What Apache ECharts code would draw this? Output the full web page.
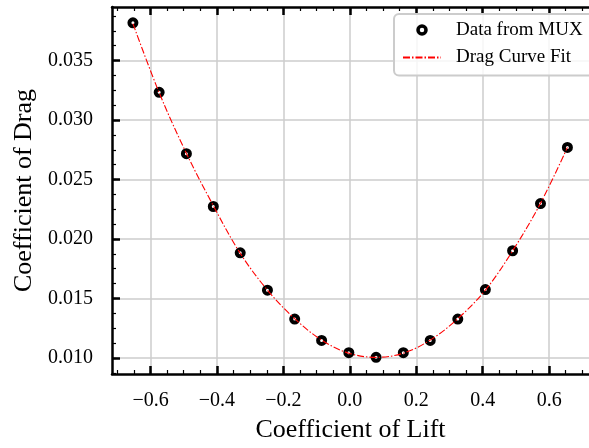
<!DOCTYPE html>
<html>
<head>
<meta charset="utf-8">
<script src="https://cdn.jsdelivr.net/npm/echarts@6/dist/echarts.min.js"></script>
<style>
html,body{margin:0;padding:0;background:#fff;}
#chart{width:589px;height:448px;}
</style>
</head>
<body>
<div id="chart"></div>
<script>
// ---- data ----
const liftValues = [-0.653, -0.574, -0.492, -0.411, -0.330, -0.248, -0.166, -0.085, -0.003, 0.079, 0.161, 0.242, 0.325, 0.408, 0.490, 0.574, 0.655];
const dragValues = [0.03817, 0.03233, 0.02717, 0.02273, 0.01884, 0.01570, 0.01327, 0.01147, 0.01044, 0.01005, 0.01044, 0.01147, 0.01327, 0.01575, 0.01901, 0.02298, 0.02770];
const fitValues  = [0.0381, 0.0323, 0.0272, 0.0228, 0.0188, 0.0157, 0.0133, 0.0115, 0.0104, 0.01005, 0.0104, 0.0115, 0.0133, 0.0157, 0.0190, 0.0230, 0.0277];
const xMajorTicks = [-0.6, -0.4, -0.2, 0.0, 0.2, 0.4, 0.6];
const xMinorTicks = [-0.7, -0.65, -0.6, -0.55, -0.5, -0.45, -0.4, -0.35, -0.3, -0.25, -0.2, -0.15, -0.1, -0.05, 0, 0.05, 0.1, 0.15, 0.2, 0.25, 0.3, 0.35, 0.4, 0.45, 0.5, 0.55, 0.6, 0.65, 0.7];
const yMajorTicks = [0.010, 0.015, 0.020, 0.025, 0.030, 0.035];
const yMinorTicks = [0.00875, 0.010, 0.01125, 0.0125, 0.01375, 0.015, 0.01625, 0.0175, 0.01875, 0.020, 0.02125, 0.0225, 0.02375, 0.025, 0.02625, 0.0275, 0.02875, 0.030, 0.03125, 0.0325, 0.03375, 0.035, 0.03625, 0.0375, 0.03875];
const seriesNames = ['Data from MUX', 'Drag Curve Fit'];
const axisTitles = {x: 'Coefficient of Lift', y: 'Coefficient of Drag'};

const FONT = 'Liberation Serif';
const X_MIN = -0.716, X_MAX = 0.72, Y_MIN = 0.00865, Y_MAX = 0.0395;

function xAx(opts) {
  return Object.assign({
    type: 'value', gridIndex: 0, min: X_MIN, max: X_MAX,
    axisLine: {show: false, onZero: false}, axisTick: {show: false}, axisLabel: {show: false}, splitLine: {show: false}
  }, opts);
}
function yAx(opts) {
  return Object.assign({
    type: 'value', gridIndex: 0, min: Y_MIN, max: Y_MAX,
    axisLine: {show: false, onZero: false}, axisTick: {show: false}, axisLabel: {show: false}, splitLine: {show: false}
  }, opts);
}
const spine = {show: true, onZero: false, lineStyle: {color: '#000', width: 2.5}};
const majorTick = vals => ({show: true, inside: true, length: 8, lineStyle: {color: '#000', width: 2.5}, customValues: vals});
const minorTick = vals => ({show: true, inside: true, length: 4, lineStyle: {color: '#000', width: 1.2}, customValues: vals});

const chart = echarts.init(document.getElementById('chart'), null, {renderer: 'canvas'});
chart.setOption({
  animation: false,
  backgroundColor: '#fff',
  grid: {left: 112, top: 7, right: -9, bottom: 72.6, containLabel: false},
  legend: {
    orient: 'vertical', left: 394, top: 14,
    padding: [6, 12, 8, 8],
    itemWidth: 38, itemHeight: 8, itemGap: 7.5,
    backgroundColor: 'rgba(255,255,255,0.8)',
    borderColor: '#cccccc', borderWidth: 2, borderRadius: 5,
    textStyle: {fontFamily: FONT, fontSize: 19, color: '#000', lineHeight: 20, padding: [0, 0, 0, 10]},
    data: [
      {name: seriesNames[0], icon: 'circle', itemStyle: {color: 'rgba(255,255,255,0)', borderColor: '#000', borderWidth: 3.5, opacity: 1}},
      {name: seriesNames[1], itemStyle: {opacity: 0}}
    ]
  },
  xAxis: [
    xAx({
      position: 'bottom', axisLine: spine,
      axisTick: majorTick(xMajorTicks),
      axisLabel: {show: true, customValues: xMajorTicks, margin: 17, fontFamily: FONT, fontSize: 20, color: '#000',
        formatter: v => (v < 0 ? '\u2212' : '') + Math.abs(v).toFixed(1)},
      splitLine: {show: true, lineStyle: {color: '#cccccc', width: 1.5}},
      name: axisTitles.x, nameLocation: 'middle', nameGap: 43,
      nameTextStyle: {fontFamily: FONT, fontSize: 26, color: '#000'}
    }),
    xAx({position: 'bottom', axisTick: minorTick(xMinorTicks)}),
    xAx({position: 'top', axisLine: spine, axisTick: majorTick(xMajorTicks)}),
    xAx({position: 'top', axisTick: minorTick(xMinorTicks)})
  ],
  yAxis: [
    yAx({
      position: 'left', axisLine: spine,
      axisTick: majorTick(yMajorTicks),
      axisLabel: {show: true, customValues: yMajorTicks, margin: 19, fontFamily: FONT, fontSize: 20, color: '#000',
        formatter: v => v.toFixed(3)},
      splitLine: {show: true, lineStyle: {color: '#cccccc', width: 1.5}},
      name: axisTitles.y, nameLocation: 'middle', nameGap: 73, nameRotate: 90,
      nameTextStyle: {fontFamily: FONT, fontSize: 26, color: '#000'}
    }),
    yAx({position: 'left', axisTick: minorTick(yMinorTicks)})
  ],
  series: [
    {
      name: seriesNames[0], type: 'scatter', xAxisIndex: 0, yAxisIndex: 0,
      symbol: 'circle', symbolSize: 7,
      itemStyle: {color: 'rgba(255,255,255,0)', borderColor: '#000', borderWidth: 4, opacity: 1},
      data: liftValues.map((x, i) => [x, dragValues[i]]),
      z: 3
    },
    {
      name: seriesNames[1], type: 'line', xAxisIndex: 0, yAxisIndex: 0,
      symbol: 'none', showSymbol: false, smooth: 0.35,
      itemStyle: {color: '#ff0000'},
      lineStyle: {color: '#ff0000', width: 1.1, type: [7, 2, 1.5, 2]},
      data: liftValues.map((x, i) => [x, fitValues[i]]),
      z: 4
    }
  ]
});
</script>
</body>
</html>
